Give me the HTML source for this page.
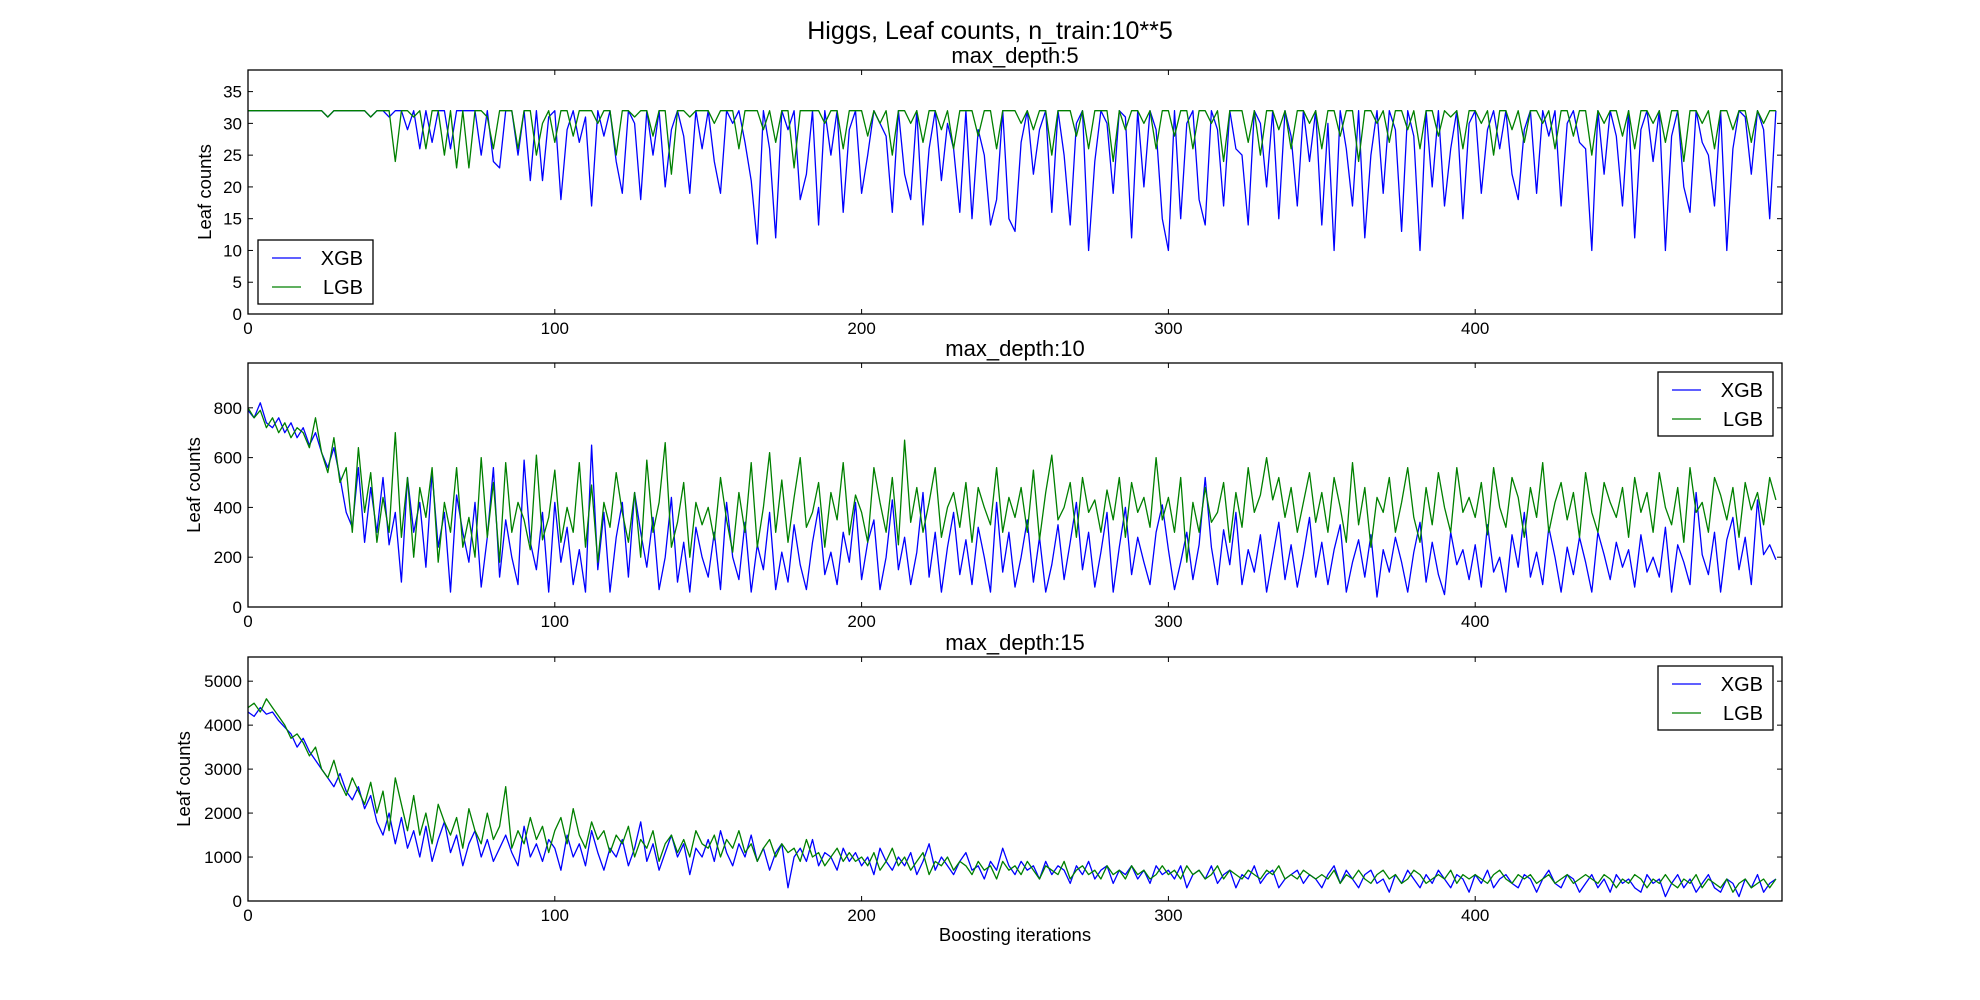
<!DOCTYPE html>
<html><head><meta charset="utf-8"><style>
html,body{margin:0;padding:0;background:#fff;}
svg{display:block;font-family:"Liberation Sans","DejaVu Sans",sans-serif;}
</style></head><body>
<svg id="fig" width="1980" height="1000" viewBox="0 0 1980 1000">
<text x="990" y="39" font-size="25" text-anchor="middle">Higgs, Leaf counts, n_train:10**5</text>
<text x="1015" y="941" font-size="18.5" text-anchor="middle">Boosting iterations</text>
</svg>
<script>
const xgb5=[32,32,32,32,32,32,32,32,32,32,32,32,32,31,32,32,32,32,32,32,31,32,32,31,32,
32,29,32,26,32,27,32,32,26,32,32,32,32,25,32,24,23,32,32,25,32,21,32,21,31,
32,18,29,32,27,31,17,32,28,32,24,19,32,30,18,32,25,32,20,29,32,28,19,32,26,
32,24,19,32,30,32,27,21,11,32,26,12,32,29,32,18,22,32,14,32,25,32,16,29,32,
19,25,32,30,28,16,32,22,18,32,14,26,32,21,30,26,16,32,15,29,25,14,18,32,15,
13,27,32,22,29,32,16,32,25,14,30,32,10,24,32,30,19,32,31,12,32,20,32,29,15,
10,32,15,30,32,18,14,32,29,17,32,26,25,14,32,30,20,32,15,32,28,17,32,24,32,
14,30,10,32,26,17,32,12,25,32,19,32,29,13,32,28,10,32,20,32,17,26,32,15,30,
32,19,29,32,26,32,22,18,29,32,19,32,28,32,17,30,32,27,26,10,32,22,32,28,17,
32,12,29,32,24,32,10,28,32,20,16,32,27,25,17,32,10,26,32,31,22,32,29,15,32];
const lgb5=[32,32,32,32,32,32,32,32,32,32,32,32,32,31,32,32,32,32,32,32,31,32,32,32,24,
32,32,31,32,26,32,32,25,32,23,32,23,32,32,31,26,32,32,32,26,32,32,25,30,32,
27,32,32,28,32,32,32,30,32,32,25,32,32,31,32,32,28,32,32,22,32,32,31,32,32,
32,30,32,32,32,26,32,32,32,29,32,27,32,32,23,32,32,32,32,30,32,32,26,32,32,
32,28,32,30,32,25,32,32,30,32,27,32,32,29,32,26,32,32,32,28,32,32,26,32,32,
32,30,32,29,32,32,25,32,32,32,28,32,26,32,32,32,24,32,29,32,32,30,32,26,32,
32,28,32,32,26,32,32,30,32,24,32,32,32,27,32,25,32,32,29,32,26,32,32,30,32,
26,32,32,28,32,32,24,32,32,30,32,27,32,32,29,32,26,32,32,28,32,31,32,26,32,
32,30,32,25,32,32,29,32,27,32,32,30,32,26,32,32,28,32,32,25,32,30,32,32,28,
32,26,32,32,30,32,27,32,32,24,32,32,30,32,26,32,32,29,32,32,27,32,30,32,32];
const xgb10=[790,760,820,740,720,760,700,740,680,720,650,700,620,560,640,520,380,320,560,260,480,300,520,250,380,
100,520,300,420,160,540,240,380,60,450,300,180,420,80,280,560,120,350,200,90,590,260,150,380,60,
420,180,320,90,230,60,650,150,380,60,280,420,120,460,300,160,360,70,200,440,100,260,60,320,200,
120,300,70,420,200,110,340,60,250,150,380,70,220,100,330,170,70,260,400,130,220,90,300,180,420,
110,260,350,70,200,430,150,280,90,220,460,120,300,60,240,380,130,270,90,320,200,60,420,140,300,
80,200,350,100,280,60,170,330,110,260,420,150,300,80,220,380,60,240,400,130,280,180,90,300,410,
230,70,180,300,110,250,520,240,90,310,170,380,90,230,140,290,60,200,340,110,250,80,210,360,120,
260,90,230,330,60,180,270,120,290,40,230,140,280,180,60,220,340,100,260,130,50,300,170,230,110,
250,80,330,140,200,60,290,160,380,120,220,90,320,200,60,240,130,280,180,60,300,210,110,260,160,
230,80,290,140,200,120,320,60,250,180,90,460,210,130,300,60,270,360,150,280,90,430,210,250,190];
const lgb10=[800,760,790,720,760,700,740,680,720,700,640,760,620,540,680,500,560,300,640,380,540,260,440,300,700,
280,520,200,480,360,560,180,420,300,560,240,360,200,600,280,500,180,580,300,420,350,230,610,270,360,
550,260,400,300,580,240,490,180,420,320,540,380,260,460,200,590,300,420,660,240,340,500,200,420,330,
400,270,520,350,220,460,300,580,240,400,620,300,510,260,440,600,320,380,500,240,460,350,580,290,450,
380,260,560,420,300,520,250,670,340,480,300,420,560,280,400,460,320,500,260,480,400,330,560,300,440,
360,480,300,550,270,460,610,350,400,500,280,520,380,430,300,470,350,520,280,500,380,440,320,600,350,
440,300,520,180,420,300,480,340,380,500,260,460,320,560,380,450,600,430,520,360,480,300,420,540,340,
460,300,520,400,260,580,330,480,240,440,380,520,300,420,560,360,260,480,330,540,400,300,560,380,440,
360,500,290,560,400,320,520,440,280,480,360,580,300,420,500,350,460,280,540,380,300,500,420,360,480,
280,520,380,460,300,540,400,330,480,260,560,380,420,300,520,450,350,480,280,500,390,460,330,520,430];
const xgb15=[4300,4200,4400,4250,4300,4100,3950,3800,3500,3700,3400,3200,3000,2800,2600,2900,2500,2300,2600,2100,2400,1800,1500,2000,1300,
1900,1200,1600,1000,1700,900,1400,1800,1100,1500,800,1300,1600,1000,1400,900,1200,1500,1100,800,1700,1000,1300,900,1400,
1200,700,1500,1000,1300,800,1600,1100,700,1200,1000,1400,800,1200,1800,900,1300,700,1100,1500,1000,1300,600,1200,1000,
1400,900,1600,1100,800,1300,1000,1500,900,1200,700,1100,1300,300,1000,1200,900,1400,800,1100,1000,700,1200,900,1100,
800,1000,600,1200,900,700,1000,800,1100,600,900,1300,700,1000,800,600,900,1100,700,800,500,900,700,1200,800,
600,900,700,800,500,900,600,800,700,400,800,600,900,500,700,800,400,700,600,800,500,700,400,800,600,
700,500,800,300,600,700,500,800,400,600,700,300,600,500,800,400,600,700,300,500,600,700,400,600,500,
300,600,800,400,700,500,300,600,700,400,500,200,600,400,700,500,300,600,400,700,500,300,600,500,200,
600,400,700,300,500,600,400,300,600,500,200,500,700,400,300,600,500,200,400,600,300,500,200,600,400,
500,300,200,600,400,500,100,400,600,300,500,200,400,600,300,200,500,400,100,500,300,600,200,400,500];
const lgb15=[4400,4500,4300,4600,4400,4200,4000,3700,3800,3600,3300,3500,3000,2800,3200,2700,2400,2800,2500,2200,2700,2000,2500,1600,2800,
2200,1600,2400,1500,2000,1300,2200,1800,1500,1900,1200,2100,1600,1300,2000,1400,1700,2600,1200,1600,1300,1900,1400,1700,1100,
1600,1900,1300,2100,1500,1200,1800,1400,1600,1100,1500,1300,1700,1000,1400,1200,1600,900,1300,1500,1100,1400,1000,1600,1300,
1200,1500,1000,1400,1200,1600,1100,1300,900,1200,1400,1000,1300,1100,1200,900,1400,1000,1100,800,1000,1200,900,1100,900,
1000,800,1100,700,900,1200,800,1000,700,900,1100,600,900,800,1000,700,900,800,600,900,700,800,500,900,700,
800,600,900,700,500,800,700,600,900,500,700,800,600,700,500,800,600,700,500,800,600,700,500,600,800,
600,700,500,800,600,700,500,600,800,500,700,600,500,700,600,500,700,600,800,500,600,500,700,600,500,
600,500,700,400,600,500,700,500,400,600,700,500,600,400,500,700,600,400,500,600,500,700,400,600,500,
600,500,400,600,700,500,400,600,500,600,400,500,600,400,500,600,400,500,600,500,400,600,500,300,500,
400,600,500,300,500,400,600,400,300,500,400,600,300,500,400,300,500,200,400,500,300,400,500,300,500];
const xTicks=[0,100,200,300,400];
const yTicks5=[0,5,10,15,20,25,30,35];
const yTicks10=[0,200,400,600,800];
const yTicks15=[0,1000,2000,3000,4000,5000];
const STEP=2;

const NS='http://www.w3.org/2000/svg';
const svg=document.getElementById('fig');
function mk(tag,attrs,parent){const e=document.createElementNS(NS,tag);for(const k in attrs)e.setAttribute(k,attrs[k]);(parent||svg).appendChild(e);return e;}
const L=248,R=1782;
const panels=[
 {top:70,bot:314,ymax:38.4,ticks:yTicks5,x:xgb5,l:lgb5,title:'max_depth:5',legend:'ll',ylx:211,name:'depth5'},
 {top:363,bot:607,ymax:980,ticks:yTicks10,x:xgb10,l:lgb10,title:'max_depth:10',legend:'ur',ylx:200,name:'depth10'},
 {top:657,bot:901,ymax:5550,ticks:yTicks15,x:xgb15,l:lgb15,title:'max_depth:15',legend:'ur',ylx:190,name:'depth15'}
];
panels.forEach(p=>{
 const g=mk('g',{});
 
 
 const xs=v=>L+(v/500)*(R-L);
 const ys=v=>p.bot-(v/p.ymax)*(p.bot-p.top);
 const t=mk('text',{x:(L+R)/2,y:p.top-7,'font-size':22,'text-anchor':'middle'},g);
 t.textContent=p.title;
 
 
 [[p.x,'#0000ff','xgb'],[p.l,'#008000','lgb']].forEach(([arr,c,n])=>{
  const pts=arr.map((v,i)=>xs(i*STEP).toFixed(1)+','+ys(v).toFixed(1)).join(' ');
  const pl=mk('polyline',{points:pts,fill:'none',stroke:c,'stroke-width':1.3,'stroke-linejoin':'round'},g);
  
  
 });
 xTicks.forEach(v=>{
  const x=xs(v);
  mk('line',{x1:x,x2:x,y1:p.bot,y2:p.bot-5,stroke:'#000','stroke-width':1},g);
  mk('line',{x1:x,x2:x,y1:p.top,y2:p.top+5,stroke:'#000','stroke-width':1},g);
  const tl=mk('text',{x:x,y:p.bot+20,'font-size':17,'text-anchor':'middle'},g);
  tl.textContent=v;
  
  
 });
 p.ticks.forEach(v=>{
  const y=ys(v);
  mk('line',{x1:L,x2:L+5,y1:y,y2:y,stroke:'#000','stroke-width':1},g);
  mk('line',{x1:R,x2:R-5,y1:y,y2:y,stroke:'#000','stroke-width':1},g);
  const tl=mk('text',{x:L-6,y:y+6,'font-size':17,'text-anchor':'end'},g);
  tl.textContent=v;
  
  
 });
 const fr=mk('rect',{x:L,y:p.top,width:R-L,height:p.bot-p.top,fill:'none',stroke:'#000','stroke-width':1.3},g);
 
 
 const yl=mk('text',{x:p.ylx,y:(p.top+p.bot)/2,'font-size':18.5,'text-anchor':'middle',transform:`rotate(-90 ${p.ylx} ${(p.top+p.bot)/2})`},g);
 yl.textContent='Leaf counts';
 
 
 const lw=115,lh=64;
 const lx=p.legend==='ll'?L+10:R-9-lw;
 const ly=p.legend==='ll'?p.bot-10-lh:p.top+9;
 const lg=mk('g',{},g);
 
 
 mk('rect',{x:lx,y:ly,width:lw,height:lh,fill:'#fff',stroke:'#000','stroke-width':1.3},lg);
 [['XGB','#0000ff'],['LGB','#008000']].forEach(([n,c],i)=>{
  const yy=ly+18+i*29;
  mk('line',{x1:lx+14,x2:lx+43,y1:yy,y2:yy,stroke:c,'stroke-width':1.3},lg);
  const tx=mk('text',{x:lx+lw-10,y:yy+7,'font-size':20,'text-anchor':'end'},lg);
  tx.textContent=n;
  
  
 });
});
</script>
</body></html>
